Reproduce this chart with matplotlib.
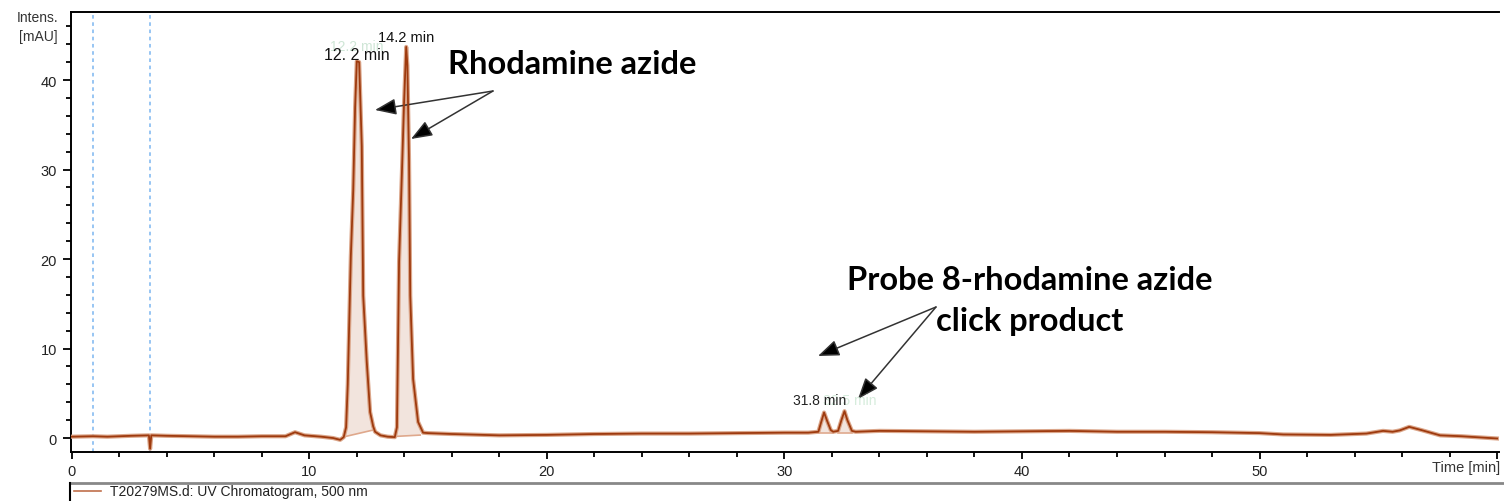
import numpy as np
import matplotlib.pyplot as plt
from matplotlib.lines import Line2D
from matplotlib.ticker import MultipleLocator

plt.rcParams['font.family'] = ['Liberation Sans', 'DejaVu Sans']

# UV trace, 500 nm (time in min, intensity in mAU)
time_min = [0, 0.9, 1.5, 2.5, 3.25, 3.3, 3.35, 4.0, 5, 6, 7, 8, 9.0, 9.4, 9.8,
            10.5, 11.0, 11.3, 11.45, 11.55, 11.62, 11.75, 11.85, 11.93, 12.0,
            12.1, 12.21, 12.27, 12.42, 12.56, 12.69, 12.77, 13.0, 13.3, 13.6,
            13.69, 13.78, 13.9, 13.99, 14.08, 14.13, 14.2, 14.25, 14.37, 14.58,
            14.79, 15.0, 16, 18, 20, 22, 24, 26, 28, 30, 31.0, 31.43, 31.55,
            31.67, 31.8, 31.95, 32.05, 32.26, 32.4, 32.53, 32.65, 32.84, 33.0,
            34, 36, 38, 40, 42, 44, 46, 48, 50, 51, 53, 54.5, 55.2, 55.6, 55.9,
            56.3, 56.8, 57.6, 58.5, 60]
intensity = [0.15, 0.2, 0.15, 0.25, 0.3, -1.2, 0.3, 0.25, 0.2, 0.15, 0.15, 0.2,
             0.2, 0.65, 0.3, 0.15, 0.0, -0.2, 0.1, 1.2, 6.0, 20.4, 27.7, 37.0,
             42.1, 42.0, 32.6, 15.9, 8.5, 2.9, 1.3, 0.7, 0.3, 0.15, 0.1,
             1.2, 19.7, 29.7, 37.5, 43.7, 41.6, 30.8, 15.9, 6.6, 1.8,
             0.6, 0.55, 0.45, 0.3, 0.35, 0.45, 0.5, 0.5, 0.55, 0.6, 0.6, 0.7, 1.8,
             2.85, 1.9, 0.9, 0.7, 0.8, 2.0, 3.0, 2.0, 0.8, 0.7,
             0.8, 0.75, 0.7, 0.75, 0.8, 0.7, 0.7, 0.65, 0.55, 0.4, 0.35, 0.5, 0.8,
             0.7, 0.85, 1.25, 0.9, 0.3, 0.2, -0.05]

# integrated peaks: start/end time and baseline level at each end
peak_start = [11.55, 13.69, 31.43, 32.26]
peak_end = [12.73, 14.67, 32.05, 32.84]
base_start = [0.19, 0.19, 0.6, 0.6]
base_end = [0.92, 0.33, 0.6, 0.6]

marker_times = [0.9, 3.3]

t = np.array(time_min)
y = np.array(intensity)

fig = plt.figure(figsize=(15.04, 5.02), dpi=100)
W, H = 1504, 502
ax = fig.add_axes([71 / W, 49 / H, 1428 / W, 440 / H])

def fp(px, py):
    return (px / W, 1 - py / H)

# peak areas
for s, e, b0, b1 in zip(peak_start, peak_end, base_start, base_end):
    m = (t > s) & (t < e)
    xs = np.concatenate([[s], t[m], [e]])
    ys = np.concatenate([[np.interp(s, t, y)], y[m], [np.interp(e, t, y)]])
    ax.fill(np.concatenate([xs, [e, s]]), np.concatenate([ys, [b1, b0]]),
            facecolor='#f2e4dd', edgecolor='none', zorder=1)
    ax.plot([s, e], [b0, b1], color='#dfa88c', lw=1.2, zorder=2)

for tm in marker_times:
    ax.axvline(tm, color='#8fc0f2', lw=1.3, ls=(0, (2, 2)), zorder=0)

ax.plot(t, y, color='#dba68a', lw=3.0, zorder=3)
ax.plot(t, y, color='#9e3a0e', lw=1.3, zorder=4)

ax.set_xlim(-0.03, 60.08)
ax.set_ylim(-1.56, 47.6)
ax.xaxis.set_minor_locator(MultipleLocator(2))
ax.yaxis.set_major_locator(MultipleLocator(10))
ax.yaxis.set_minor_locator(MultipleLocator(2))
ax.set_xticks([0, 10, 20, 30, 40, 50, 60])
ax.set_xticklabels(['0', '10', '20', '30', '40', '50', ''])
ax.tick_params(axis='both', which='major', direction='out', length=5, width=1.3,
               labelsize=10.5, labelcolor='#222', pad=4)
ax.tick_params(axis='both', which='minor', direction='out', length=3.5, width=1.3)
ax.tick_params(axis='y', which='major', length=6)
ax.spines['right'].set_visible(False)
for sp in ['left', 'bottom', 'top']:
    ax.spines[sp].set_linewidth(1.4)

fig.text(*fp(58, 18), 'Intens.', ha='right', va='center', fontsize=10, color='#333')
fig.text(*fp(58, 37), '[mAU]', ha='right', va='center', fontsize=10, color='#333')
fig.text(*fp(1500, 468), 'Time [min]', ha='right', va='center', fontsize=10.5, color='#333')

# peak labels (with the faint overlapped labels behind)
fig.text(*fp(357, 47), '12.2 min', ha='center', va='center', fontsize=10, color='#cfe6d6')
fig.text(*fp(357, 56), '12. 2 min', ha='center', va='center', fontsize=11.5, color='#111')
fig.text(*fp(406, 38), '14.2 min', ha='center', va='center', fontsize=10.5, color='#111')
fig.text(*fp(876, 401), '32.5 min', ha='right', va='center', fontsize=10, color='#d6ecdc')
fig.text(*fp(820, 401), '31.8 min', ha='center', va='center', fontsize=10, color='#222')

bold = dict(family=['Lato', 'DejaVu Sans'], fontweight='bold', color='black')
fig.text(*fp(572, 65), 'Rhodamine azide', ha='center', va='center', fontsize=23.5, **bold)
fig.text(*fp(1030, 281), 'Probe 8-rhodamine azide', ha='center', va='center', fontsize=23.5, **bold)
fig.text(*fp(1030, 322), 'click product', ha='center', va='center', fontsize=23.5, **bold)

arrow = dict(arrowstyle='-|>,head_length=1.3,head_width=0.5', color='#555',
             lw=1.1, shrinkA=0, shrinkB=0)
for tip, tail in [((375, 111), (493, 92)), ((411, 140), (493, 92)),
                  ((818, 357), (936, 308)), ((858, 400), (936, 308))]:
    a = ax.annotate('', xy=fp(*tip), xytext=fp(*tail), xycoords='figure fraction',
                    textcoords='figure fraction', arrowprops=arrow)
    a.arrow_patch.set_facecolor('black')
    a.arrow_patch.set_edgecolor('#333')

# legend strip at the bottom
fig.add_artist(Line2D([70 / W, 1], [1 - 484 / H] * 2, color='#888', lw=2))
fig.add_artist(Line2D([70 / W] * 2, [0, 1 - 484 / H], color='black', lw=1.5))
fig.add_artist(Line2D([74 / W, 101 / W], [1 - 492 / H] * 2, color='#c0704c', lw=1.2))
fig.text(*fp(110, 492), 'T20279MS.d: UV Chromatogram, 500 nm', ha='left', va='center',
         fontsize=10, color='#222')

fig.savefig('out.png', dpi=100)
